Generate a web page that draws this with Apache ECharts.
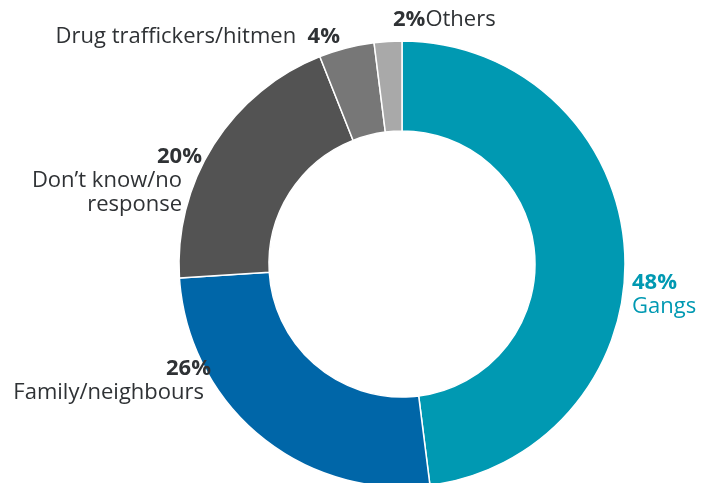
<!DOCTYPE html>
<html>
<head>
<meta charset="utf-8">
<script src="https://cdn.jsdelivr.net/npm/echarts@6/dist/echarts.min.js"></script>
<style>
  html, body { margin: 0; padding: 0; background: #fff; }
  #chart { width: 701px; height: 483px; }
</style>
</head>
<body>
<div id="chart"></div>
<script>
// shares of responses (%)
var categories = ['Gangs', 'Family/neighbours', 'Don\u2019t know/no\nresponse', 'Drug traffickers/hitmen', 'Others'];
var values = [48, 26, 20, 4, 2];
var colors = ['#0099b2', '#0066a8', '#535353', '#777777', '#a9a9a9'];

// where each label sits (x, y, align)
var labelSpots = [
  [632, 295, 'left'],
  [211, 381, 'right'],
  [202, 181, 'right'],
  [340, 37, 'right'],
  [393, 20, 'left']
];

var chart = echarts.init(document.getElementById('chart'));

function fmt(p) {
  var i = p.dataIndex;
  if (i === 0) return '{g|' + p.value + '%}\n{gt|' + p.name + '}';
  if (i === 1) return '{b|' + p.value + '%}\n{t7|' + p.name + '}';
  if (i === 2) {
    var lines = p.name.split('\n');
    return '{b|' + p.value + '%}\n{t20|' + lines[0] + '}\n{t20|' + lines[1] + '}';
  }
  if (i === 3) return '{t|' + p.name + '  }{b|' + p.value + '%}';
  return '{b|' + p.value + '%}{t|' + p.name + '}';
}

var txt = { fontFamily: 'Open Sans', fontSize: 22, color: '#2f3235', lineHeight: 24 };

chart.setOption({
  animation: false,
  series: [{
    type: 'pie',
    center: [402, 264],
    radius: [133, 223],
    startAngle: 90,
    clockwise: true,
    itemStyle: { borderColor: '#fff', borderWidth: 1.5 },
    emphasis: { disabled: true },
    labelLine: { show: false },
    label: {
      show: true,
      position: 'outside',
      overflow: 'none',
      width: 300,
      formatter: fmt,
      rich: {
        b: Object.assign({}, txt, { fontWeight: 'bold' }),
        t: txt,
        t7: Object.assign({}, txt, { padding: [0, 7, 0, 0] }),
        t20: Object.assign({}, txt, { padding: [0, 20, 0, 0] }),
        g: Object.assign({}, txt, { fontWeight: 'bold', color: '#0099b2' }),
        gt: Object.assign({}, txt, { color: '#0099b2' })
      }
    },
    labelLayout: function (p) {
      var s = labelSpots[p.dataIndex];
      return { x: s[0], y: s[1], align: s[2], verticalAlign: 'middle' };
    },
    data: categories.map(function (c, i) {
      return { name: c, value: values[i], itemStyle: { color: colors[i] } };
    })
  }]
});
</script>
</body>
</html>
